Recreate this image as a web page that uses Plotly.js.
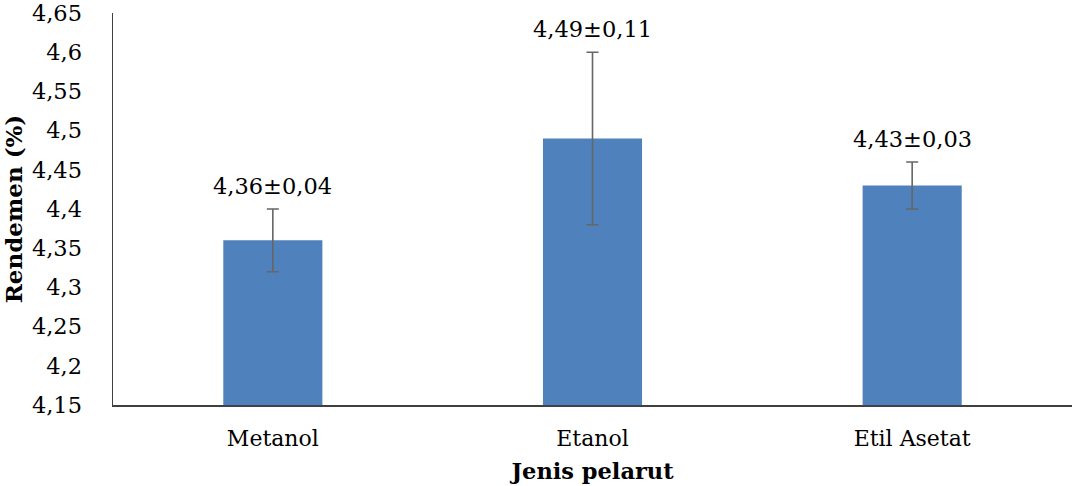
<!DOCTYPE html>
<html>
<head>
<meta charset="utf-8">
<script src="https://cdn.plot.ly/plotly-3.0.1.min.js"></script>
<style>html,body{margin:0;padding:0;background:#fff;}#chart{width:1072px;height:486px;}</style>
</head>
<body>
<div id="chart"></div>
<script>
const categories = ["Metanol", "Etanol", "Etil Asetat"];
const values = [4.36, 4.49, 4.43];
const errors = [0.04, 0.11, 0.03];
const tickValues = [4.15, 4.2, 4.25, 4.3, 4.35, 4.4, 4.45, 4.5, 4.55, 4.6, 4.65];

const fmt = v => String(v).replace('.', ',');
const tickText = tickValues.map(fmt);
const labels = values.map((v, i) => v.toFixed(2).replace('.', ',') + '±' + errors[i].toFixed(2).replace('.', ','));

const FONT = "DejaVu Serif, Liberation Serif, serif";

const trace = {
  type: 'bar',
  x: categories,
  y: values,
  base: 0,
  width: 0.31,
  marker: {color: '#4f81bd'},
  error_y: {type: 'data', array: errors, visible: true, color: '#666666', thickness: 1.6, width: 6},
  hoverinfo: 'none'
};

const annotations = categories.map((c, i) => ({
  x: c, y: values[i] + errors[i], xref: 'x', yref: 'y',
  text: labels[i], showarrow: false, yanchor: 'bottom', yshift: 8,
  font: {family: FONT, size: 22.5, color: '#000'}
}));

const layout = {
  width: 1072, height: 486,
  margin: {l: 113, r: 0, t: 13, b: 81},
  paper_bgcolor: '#fff', plot_bgcolor: '#fff',
  showlegend: false,
  xaxis: {
    type: 'category',
    showline: true, linecolor: '#404040', linewidth: 1.5,
    ticks: '', showgrid: false, zeroline: false,
    tickfont: {family: FONT, size: 22, color: '#000'},
    ticklabelstandoff: 13,
    title: {text: '<b>Jenis pelarut</b>', font: {family: FONT, size: 22.5, color: '#000'}, standoff: 13}
  },
  yaxis: {
    range: [4.15, 4.65],
    tickvals: tickValues, ticktext: tickText,
    showline: true, linecolor: '#404040', linewidth: 1.5,
    ticks: '', showgrid: false, zeroline: false,
    tickfont: {family: FONT, size: 22.5, color: '#000'},
    ticklabelstandoff: 25,
    ticklabeloverflow: 'allow',
    title: {text: '<b>Rendemen (%)</b>', font: {family: FONT, size: 23, color: '#000'}, standoff: 4}
  },
  annotations: annotations
};

Plotly.newPlot('chart', [trace], layout, {displayModeBar: false, staticPlot: true});
</script>
</body>
</html>
